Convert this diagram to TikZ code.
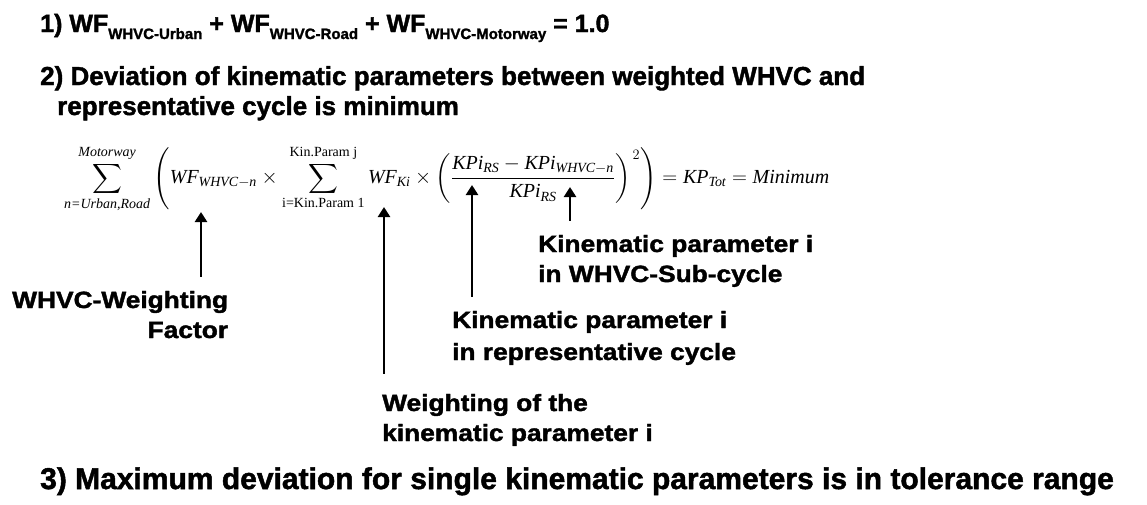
\documentclass[tikz,border=0pt]{standalone}
\usepackage{amsmath}
\usepackage{graphicx}
\usepackage{fontspec}
\setmainfont{Liberation Sans}[BoldFeatures={FakeBold=1.6}]
\newfontfamily\tnr{Liberation Serif}
\usetikzlibrary{arrows.meta, positioning}

\tikzset{
  headline/.style={anchor=base west, inner sep=0pt, font=\bfseries\fontsize{26}{26}\selectfont},
  explain/.style={anchor=base west, inner sep=0pt, font=\bfseries\fontsize{23.5}{23.5}\selectfont},
  pointer/.style={line width=2.8pt, -{Triangle[width=12pt,length=10pt]}}
}
\newcommand{\wfsub}[1]{\raisebox{-7pt}{\fontsize{15}{15}\selectfont #1}}
\newcommand{\tv}[1]{\text{\tnr\itshape #1}}
\newcommand{\tu}[1]{\text{\tnr #1}}
\newcommand{\wide}[1]{\scalebox{1.12}[1]{#1}}

\begin{document}
\begin{tikzpicture}[x=1pt, y=-1pt]
  \useasboundingbox (0,0) rectangle (1147,504);
  % conditions
  \node[headline, font=\bfseries\fontsize{25}{25}\selectfont] (cond1) at (40,32)
    {1) WF\wfsub{WHVC-Urban} + WF\wfsub{WHVC-Road} + WF\wfsub{WHVC-Motorway} = 1.0};
  \node[headline] (cond2a) at (40,85) {2) Deviation of kinematic parameters between weighted WHVC and};
  \node[headline] (cond2b) at (57,115) {representative cycle is minimum};
  \node[headline, font=\bfseries\fontsize{30}{30}\selectfont] (cond3) at (40,489)
    {3) Maximum deviation for single kinematic parameters is in tolerance range};

  % target function
  \node[anchor=west, inner sep=0pt, font=\fontsize{20}{20}\selectfont] (formula) at (64,179)
    {\resizebox{765pt}{!}{$\displaystyle\sum_{\tv{n=Urban,Road}}^{\tv{Motorway}}
      \left( \tv{WF}_{\tv{WHVC}-\tv{n}} \times \sum_{\tu{i=Kin.Param 1}}^{\tu{Kin.Param j}} \tv{WF}_{\tv{Ki}}
      \times \left( \frac{\tv{KPi}_{\tv{RS}} - \tv{KPi}_{\tv{WHVC}-\tv{n}}}{\tv{KPi}_{\tv{RS}}} \right)^{\,2} \right)
      = \tv{KP}_{\tv{Tot}} = \tv{Minimum}$}};

  % tips under the terms
  \coordinate (wfcycle) at (201,212);
  \coordinate (wfkin) at (384,207);
  \coordinate (kprs) at (472,185);
  \coordinate (kpsub) at (570,187);

  % explanations
  \node[explain] (subcyc) at (538,252) {\wide{Kinematic parameter i}};
  \node[explain] (subcyc2) at (538,282) {\wide{in WHVC-Sub-cycle}};
  \node[explain] (weight) at (12,308) {\wide{WHVC-Weighting}};
  \node[explain, anchor=base east] (weight2) at (weight.east |- 0,338) {\wide{Factor}};
  \node[explain] (repcyc) at (452,328) {\wide{Kinematic parameter i}};
  \node[explain] (repcyc2) at (452,360) {\wide{in representative cycle}};
  \node[explain] (kinw) at (382,411) {\wide{Weighting of the}};
  \node[explain] (kinw2) at (382,441) {\wide{kinematic parameter i}};

  \draw[pointer] (wfcycle |- weight.north) ++(0,-14) -- (wfcycle);
  \draw[pointer] (wfkin |- kinw.north) ++(0,-20) -- (wfkin);
  \draw[pointer] (kprs |- repcyc.north) ++(0,-14) -- (kprs);
  \draw[pointer] (kpsub |- subcyc.north) ++(0,-14) -- (kpsub);
\end{tikzpicture}
\end{document}
